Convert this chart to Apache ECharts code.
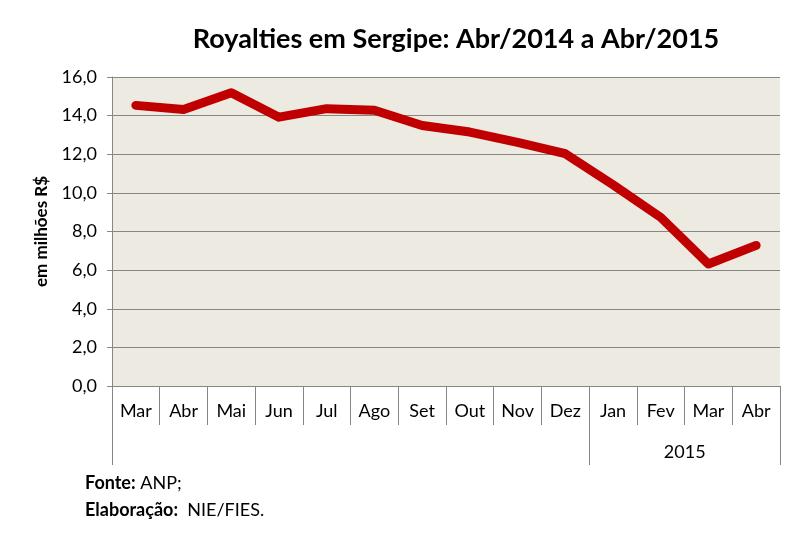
<!DOCTYPE html>
<html lang="pt">
<head>
    <meta charset="UTF-8">
    <title>Royalties em Sergipe</title>
    <script src="https://cdn.jsdelivr.net/npm/echarts@6/dist/echarts.min.js"></script>
    <style>
        body { margin: 0; padding: 0; background: #fff; }
        #chart { width: 804px; height: 534px; }
    </style>
</head>
<body>
    <div id="chart"></div>
    <script>
        // dados (milhões R$)
        var meses = ['Mar', 'Abr', 'Mai', 'Jun', 'Jul', 'Ago', 'Set', 'Out', 'Nov', 'Dez', 'Jan', 'Fev', 'Mar', 'Abr'];
        var royalties = [14.53, 14.32, 15.19, 13.92, 14.36, 14.28, 13.49, 13.15, 12.62, 12.03, 10.42, 8.73, 6.32, 7.28];
        // segunda linha do eixo: o ano, sob Jan-Abr
        var anos = ['', '', '', '', '', '', '', '', '', '', '', '2015', '', ''];
        var inicioAno = 10; // índice de Jan/2015

        var fonte = 'Lato, "Liberation Sans", sans-serif';
        var chart = echarts.init(document.getElementById('chart'));

        var option = {
            backgroundColor: '#fff',
            textStyle: { fontFamily: fonte },
            title: {
                text: 'Royalties em Sergipe: Abr/2014 a Abr/2015',
                left: 451,
                textAlign: 'center',
                top: 21,
                textStyle: { fontFamily: fonte, fontSize: 27, fontWeight: 'bold', color: '#000' }
            },
            grid: {
                left: 112, right: 24, top: 77, bottom: 148,
                show: true, backgroundColor: '#EDEAE1', borderWidth: 0
            },
            xAxis: [{
                type: 'category',
                data: meses,
                boundaryGap: true,
                axisLine: { lineStyle: { color: '#868686', width: 1 } },
                axisTick: { show: true, interval: 0, length: 39, lineStyle: { color: '#868686' } },
                axisLabel: { interval: 0, margin: 16, fontSize: 18, color: '#000', fontFamily: fonte }
            }, {
                type: 'category',
                data: anos,
                position: 'bottom',
                offset: 39,
                boundaryGap: true,
                axisLine: { show: false },
                axisTick: {
                    show: true, length: 40, lineStyle: { color: '#868686' },
                    interval: function (i) { return i === 0 || i === inicioAno; }
                },
                axisLabel: {
                    interval: 0, margin: 18, fontSize: 18, color: '#000', fontFamily: fonte,
                    padding: [0, 0, 0, 48]
                }
            }],
            yAxis: {
                type: 'value',
                min: 0, max: 16, interval: 2,
                name: 'em milhões R$',
                nameLocation: 'middle',
                nameGap: 62,
                nameTextStyle: { fontSize: 17, fontWeight: 'bold', color: '#000', fontFamily: fonte },
                axisLine: { show: true, lineStyle: { color: '#868686' } },
                axisTick: { show: true, length: 5, lineStyle: { color: '#868686' } },
                axisLabel: {
                    fontSize: 18, color: '#000', margin: 15, fontFamily: fonte,
                    formatter: function (v) { return v.toFixed(1).replace('.', ','); }
                },
                splitLine: { lineStyle: { color: '#868686', width: 1 } }
            },
            series: [{
                type: 'line',
                data: royalties,
                symbol: 'none',
                lineStyle: { color: '#C00000', width: 9, cap: 'round', join: 'round' },
                animation: false
            }],
            graphic: [{
                type: 'text', left: 85, top: 474,
                style: {
                    text: '{b|Fonte:} ANP;',
                    font: '18px ' + fonte, fill: '#000',
                    rich: { b: { fontWeight: 'bold', fontSize: 18, fontFamily: fonte } }
                }
            }, {
                type: 'text', left: 85, top: 501,
                style: {
                    text: '{b|Elaboração:}  NIE/FIES.',
                    font: '18px ' + fonte, fill: '#000',
                    rich: { b: { fontWeight: 'bold', fontSize: 18, fontFamily: fonte } }
                }
            }]
        };
        chart.setOption(option);
    </script>
</body>
</html>
